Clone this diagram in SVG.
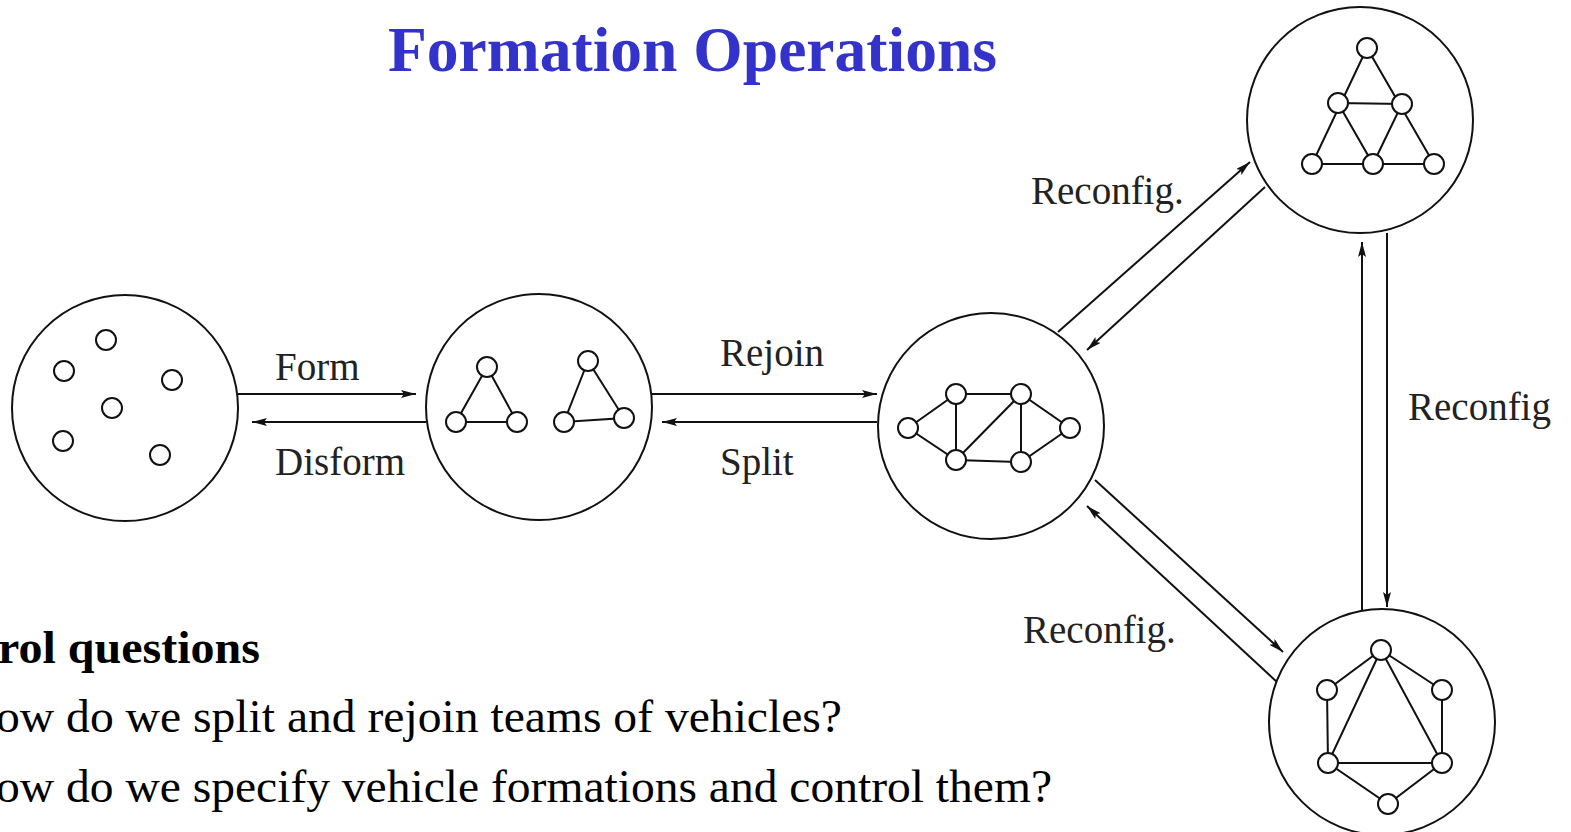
<svg xmlns="http://www.w3.org/2000/svg" width="1571" height="832" viewBox="0 0 1571 832">
<defs>
<style>
.big{fill:#fff;stroke:#111;stroke-width:2}
.n{fill:#fff;stroke:#111;stroke-width:2}
.e{stroke:#111;stroke-width:2;fill:none}
.c{stroke:#111;stroke-width:2;fill:none;marker-end:url(#ah)}
.lbl{font-family:"Liberation Serif","Times New Roman",serif;font-size:39px;fill:#222}
.title{font-family:"Liberation Serif","Times New Roman",serif;font-size:63px;font-weight:bold;fill:#3333CC}
.body{font-family:"Liberation Serif","Times New Roman",serif;font-size:46px;fill:#000}
</style>
<marker id="ah" markerUnits="userSpaceOnUse" markerWidth="16" markerHeight="10" refX="15" refY="4" orient="auto">
<path d="M0,0 L15,4 L0,8 L3,4 z" fill="#111"/>
</marker>
</defs>
<rect width="1571" height="832" fill="#fff"/>
<text class="title" x="388" y="71" textLength="609" lengthAdjust="spacingAndGlyphs">Formation Operations</text>

<g id="connectors">
<line class="c" x1="238" y1="394" x2="416" y2="394"/>
<line class="c" x1="426" y1="422" x2="252" y2="422"/>
<line class="c" x1="652" y1="394" x2="877" y2="394"/>
<line class="c" x1="877" y1="422" x2="662" y2="422"/>
<line class="c" x1="1058" y1="332" x2="1250" y2="162"/>
<line class="c" x1="1265" y1="187" x2="1087" y2="350"/>
<line class="c" x1="1095" y1="480" x2="1283" y2="652"/>
<line class="c" x1="1277" y1="682" x2="1087" y2="506"/>
<line class="c" x1="1362" y1="612" x2="1362" y2="242"/>
<line class="c" x1="1387" y1="233" x2="1387" y2="607"/>
<text class="lbl" x="275" y="380">Form</text>
<text class="lbl" x="275" y="475">Disform</text>
<text class="lbl" x="720" y="366">Rejoin</text>
<text class="lbl" x="720" y="475">Split</text>
<text class="lbl" x="1031" y="204">Reconfig.</text>
<text class="lbl" x="1023" y="643">Reconfig.</text>
<text class="lbl" x="1408" y="420">Reconfig</text>
</g>

<g id="scattered">
<circle class="big" cx="125" cy="408" r="113"/>
<circle class="n" cx="106" cy="340" r="10"/>
<circle class="n" cx="64" cy="371" r="10"/>
<circle class="n" cx="172" cy="380" r="10"/>
<circle class="n" cx="112" cy="408" r="10"/>
<circle class="n" cx="63" cy="441" r="10"/>
<circle class="n" cx="160" cy="455" r="10"/>
</g>

<g id="two-triangles">
<circle class="big" cx="539" cy="407" r="113"/>
<path class="e" d="M487,367 L456,422 L517,422 Z M588,361 L564,422 L624,418 Z"/>
<circle class="n" cx="487" cy="367" r="10"/>
<circle class="n" cx="456" cy="422" r="10"/>
<circle class="n" cx="517" cy="422" r="10"/>
<circle class="n" cx="588" cy="361" r="10"/>
<circle class="n" cx="564" cy="422" r="10"/>
<circle class="n" cx="624" cy="418" r="10"/>
</g>

<g id="joined">
<circle class="big" cx="991" cy="426" r="113"/>
<path class="e" d="M908,428 L956,394 L1021,394 L1070,428 L1021,462 L956,460 Z M956,394 L956,460 L1021,394 L1021,462"/>
<circle class="n" cx="956" cy="394" r="10"/>
<circle class="n" cx="1021" cy="394" r="10"/>
<circle class="n" cx="908" cy="428" r="10"/>
<circle class="n" cx="1070" cy="428" r="10"/>
<circle class="n" cx="956" cy="460" r="10"/>
<circle class="n" cx="1021" cy="462" r="10"/>
</g>

<g id="triangle-formation">
<circle class="big" cx="1360" cy="120" r="113"/>
<path class="e" d="M1367,48 L1312,164 L1434,164 Z M1338,103 L1402,104 L1373,164 Z"/>
<circle class="n" cx="1367" cy="48" r="10"/>
<circle class="n" cx="1338" cy="103" r="10"/>
<circle class="n" cx="1402" cy="104" r="10"/>
<circle class="n" cx="1312" cy="164" r="10"/>
<circle class="n" cx="1373" cy="164" r="10"/>
<circle class="n" cx="1434" cy="164" r="10"/>
</g>

<g id="hexagon-formation">
<circle class="big" cx="1382" cy="722" r="113"/>
<path class="e" d="M1381,650 L1442,690 L1442,763 L1388,804 L1328,763 L1327,690 Z M1381,650 L1328,763 L1442,763 Z"/>
<circle class="n" cx="1381" cy="650" r="10"/>
<circle class="n" cx="1327" cy="690" r="10"/>
<circle class="n" cx="1442" cy="690" r="10"/>
<circle class="n" cx="1328" cy="763" r="10"/>
<circle class="n" cx="1442" cy="763" r="10"/>
<circle class="n" cx="1388" cy="804" r="10"/>
</g>

<g id="questions">
<text class="body" x="-2" y="663" font-weight="bold" textLength="262" lengthAdjust="spacingAndGlyphs">rol questions</text>
<text class="body" x="-4" y="732" textLength="846" lengthAdjust="spacingAndGlyphs">ow do we split and rejoin teams of vehicles?</text>
<text class="body" x="-4" y="802" textLength="1056" lengthAdjust="spacingAndGlyphs">ow do we specify vehicle formations and control them?</text>
</g>
</svg>
